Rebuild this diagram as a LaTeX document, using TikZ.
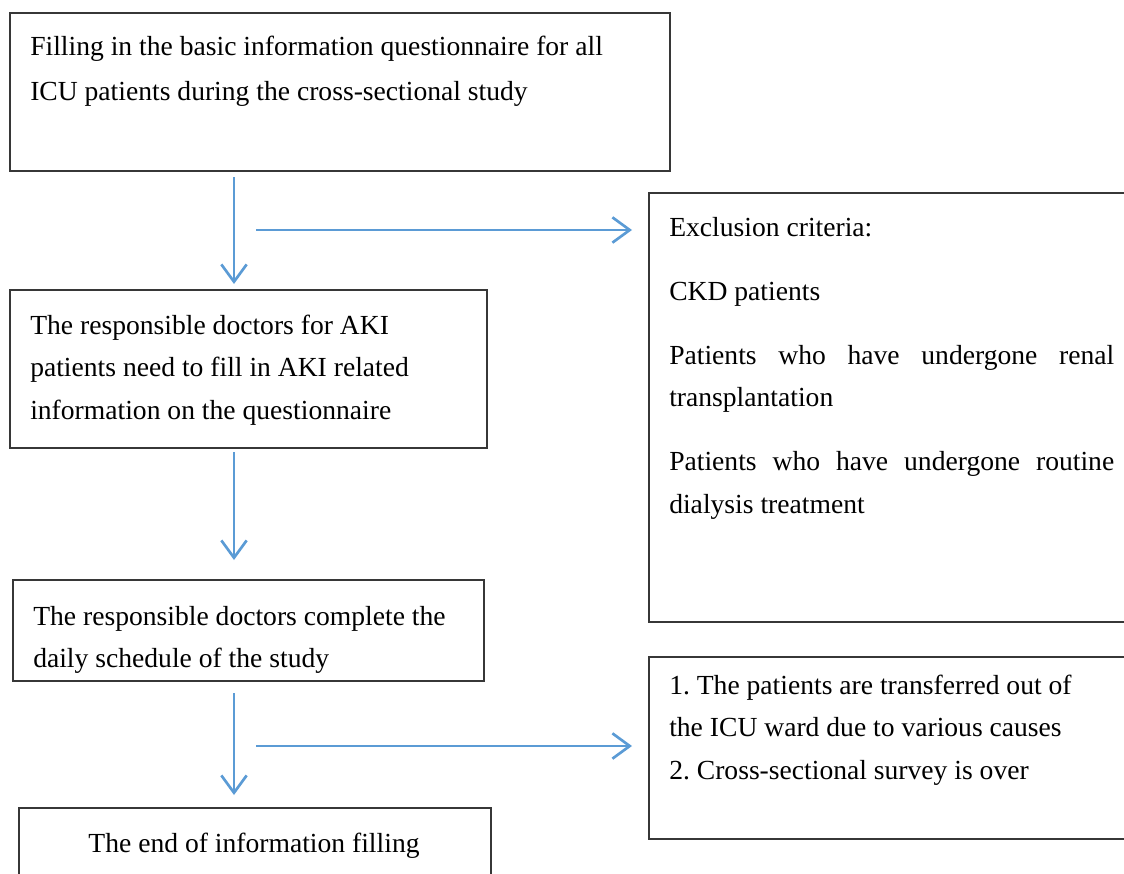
\documentclass[tikz,border=0pt]{standalone}
\usepackage{fontspec}
\setmainfont{Liberation Serif}
\usetikzlibrary{arrows.meta,positioning}
\definecolor{flowblue}{RGB}{91,155,213}
\definecolor{framegray}{RGB}{55,55,55}
\tikzset{
  frame/.style={draw=framegray, line width=1.3pt, inner sep=0pt, anchor=north west},
  body/.style={inner sep=0pt, font=\fontsize{20.7}{32}\selectfont, text width=340pt, align=flush left, anchor=base west},
  flow/.style={draw=flowblue, line width=2pt, -{Straight Barb[length=13pt,width=19pt]}}
}

\begin{document}
\begin{tikzpicture}[x=0.75pt, y=-0.75pt]
    \clip (0,0) rectangle (1124,874);
    % boxes
    \node[frame, minimum width=495pt, minimum height=118.5pt] (survey) at (9,12) {};
    \node[frame, minimum width=375pt, minimum height=321.75pt] (exclusion) at (648,192) {};
    \node[frame, minimum width=357.75pt, minimum height=118.5pt] (akiinfo) at (9,289) {};
    \node[frame, minimum width=353.25pt, minimum height=75.75pt] (schedule) at (12,579) {};
    \node[frame, minimum width=375pt, minimum height=136.5pt] (withdraw) at (648,656) {};
    \node[frame, minimum width=354pt, minimum height=75pt] (finish) at (18,807) {};
    % texts
    \node[body, text width=470pt, font=\fontsize{20.7}{33}\selectfont] (surveytxt) at (30,56) {Filling in the basic information questionnaire for all\\ICU patients during the cross-sectional study};
    \node[body, text width=333.75pt, align=justify] (exclusiontxt) at (669,236) {Exclusion criteria:\\[16pt]CKD patients\\[16pt]Patients who have undergone renal\linebreak transplantation\\[16pt]Patients who have undergone routine\linebreak dialysis treatment};
    \node[body] (akitxt) at (30,334) {The responsible doctors for AKI\\patients need to fill in AKI related\\information on the questionnaire};
    \node[body] (scheduletxt) at (33,625) {The responsible doctors complete the\\daily schedule of the study};
    \node[body] (withdrawtxt) at (669,694) {1.\ The patients are transferred out of\\the ICU ward due to various causes\\2.\ Cross-sectional survey is over};
    \node[body, text width=, anchor=base] (finishtxt) at (254,852) {The end of information filling};
    % connectors
    \coordinate (d1a) at (234,177);
    \coordinate (d1b) at (234,284);
    \coordinate (r1a) at (256,230);
    \coordinate (r1b) at (632,230);
    \coordinate (d2a) at (234,452);
    \coordinate (d2b) at (234,560);
    \coordinate (d3a) at (234,693);
    \coordinate (d3b) at (234,795);
    \coordinate (r2a) at (256,746);
    \coordinate (r2b) at (632,746);
    \draw[flow] (d1a) -- (d1b);
    \draw[flow] (r1a) -- (r1b);
    \draw[flow] (d2a) -- (d2b);
    \draw[flow] (d3a) -- (d3b);
    \draw[flow] (r2a) -- (r2b);
\end{tikzpicture}
\end{document}
